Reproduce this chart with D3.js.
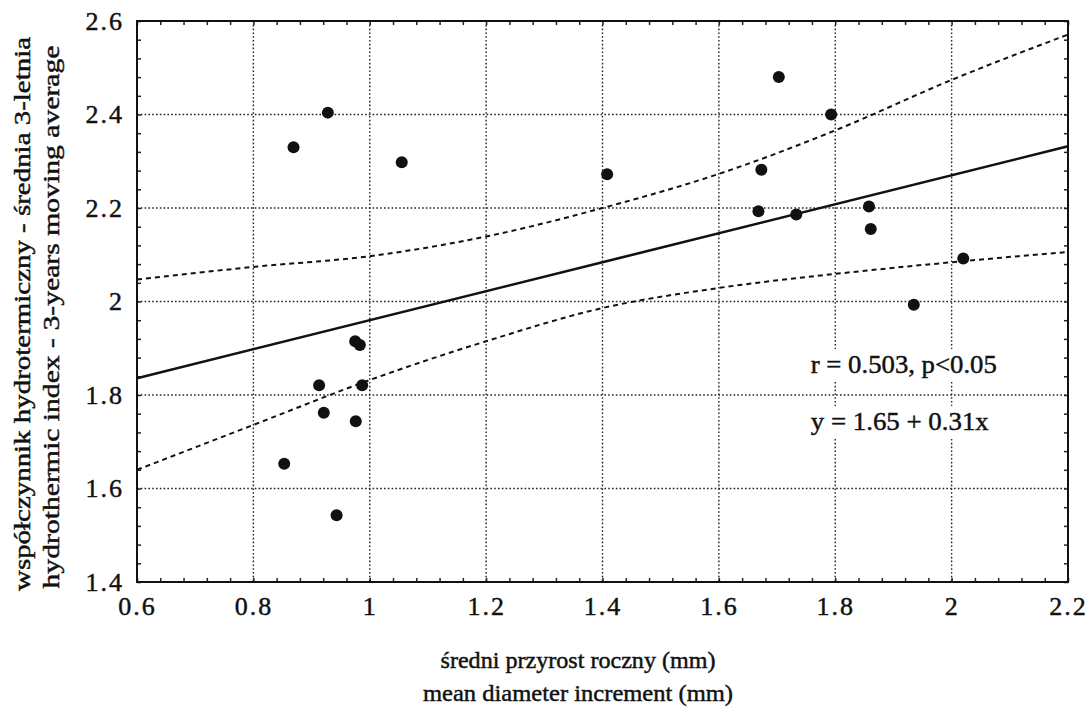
<!DOCTYPE html>
<html>
<head>
<meta charset="utf-8">
<script src="https://cdnjs.cloudflare.com/ajax/libs/d3/7.8.5/d3.min.js"></script>
<style>
  body { margin: 0; background: #fff; }
  svg text { font-family: "Liberation Serif", "Times New Roman", Times, serif !important; fill: #111; stroke: #111; stroke-width: 0.45px; }
</style>
</head>
<body>
<div id="chart"></div>
<script>
// values
var xTicks = [0.6, 0.8, 1, 1.2, 1.4, 1.6, 1.8, 2, 2.2];
var yTicks = [1.4, 1.6, 1.8, 2, 2.2, 2.4, 2.6];

// mean diameter increment (mm)
var increment = [0.869, 0.928, 1.055, 1.408, 1.703, 1.793, 1.673, 1.668, 1.733, 1.858, 1.861,
                 2.020, 1.935, 0.975, 0.983, 0.913, 0.987, 0.921, 0.976, 0.853, 0.943];
// hydrothermic index - 3-years moving average
var hydroIndex = [2.330, 2.404, 2.298, 2.272, 2.480, 2.400, 2.282, 2.193, 2.186, 2.203, 2.155,
                  2.092, 1.993, 1.915, 1.907, 1.821, 1.821, 1.762, 1.744, 1.653, 1.543];

// regression line and confidence band
var fitX = [0.6, 2.2];
var fitY = [1.836, 2.332];
var bandX = [0.6, 0.8, 1, 1.2, 1.4, 1.6, 1.8, 2, 2.2];
var bandUpper = [2.047, 2.074, 2.097, 2.139, 2.200, 2.273, 2.366, 2.474, 2.571];
var bandLower = [1.640, 1.736, 1.832, 1.915, 1.986, 2.029, 2.059, 2.084, 2.106];

var statsLabels = ["r = 0.503, p<0.05", "y = 1.65 + 0.31x"];

var margin = {top: 21, right: 23, bottom: 126, left: 137};
var width = 1091 - margin.left - margin.right,
    height = 708 - margin.top - margin.bottom;

var svg = d3.select("#chart").append("svg")
    .attr("width", 1091)
    .attr("height", 708);

var g = svg.append("g")
    .attr("transform", "translate(" + margin.left + "," + margin.top + ")");

var x = d3.scaleLinear().domain([0.6, 2.2]).range([0, width]);
var y = d3.scaleLinear().domain([1.4, 2.6]).range([height, 0]);

// dotted grid
g.append("g").selectAll("line")
    .data(xTicks.slice(1, -1))
    .enter().append("line")
    .attr("x1", function(d){ return x(d); })
    .attr("x2", function(d){ return x(d); })
    .attr("y1", 0).attr("y2", height)
    .attr("stroke", "#222").attr("stroke-width", 1.4)
    .attr("stroke-dasharray", "1.6,2.2");

g.append("g").selectAll("line")
    .data(yTicks.slice(1, -1))
    .enter().append("line")
    .attr("y1", function(d){ return y(d); })
    .attr("y2", function(d){ return y(d); })
    .attr("x1", 0).attr("x2", width)
    .attr("stroke", "#222").attr("stroke-width", 1.4)
    .attr("stroke-dasharray", "1.6,2.2");

// minor ticks on all four sides, pointing inward
var xMinor = d3.range(0, 41).map(function(i){ return 0.6 + i * 0.04; });
var yMinor = d3.range(0, 31).map(function(i){ return 1.4 + i * 0.04; });

g.append("g").call(d3.axisTop(x).tickValues(xMinor).tickSize(-4).tickFormat(""))
    .call(function(a){ a.select(".domain").remove(); });
g.append("g").attr("transform", "translate(0," + height + ")")
    .call(d3.axisBottom(x).tickValues(xMinor).tickSize(-4).tickFormat(""))
    .call(function(a){ a.select(".domain").remove(); });
g.append("g").call(d3.axisLeft(y).tickValues(yMinor).tickSize(-4).tickFormat(""))
    .call(function(a){ a.select(".domain").remove(); });
g.append("g").attr("transform", "translate(" + width + ",0)")
    .call(d3.axisRight(y).tickValues(yMinor).tickSize(-4).tickFormat(""))
    .call(function(a){ a.select(".domain").remove(); });
g.selectAll(".tick line").attr("stroke", "#222").attr("stroke-width", 1.5);

// tick labels
var xAxis = g.append("g").attr("transform", "translate(0," + height + ")")
    .call(d3.axisBottom(x).tickValues(xTicks).tickSize(0).tickPadding(15)
        .tickFormat(function(d){ return String(d); }));
xAxis.select(".domain").remove();
xAxis.attr("font-family", null);
xAxis.selectAll("text").attr("font-size", 26).attr("fill", "#111")
    .style("letter-spacing", "2px");

var yAxis = g.append("g")
    .call(d3.axisLeft(y).tickValues(yTicks).tickSize(0).tickPadding(13)
        .tickFormat(function(d){ return String(d); }));
yAxis.select(".domain").remove();
yAxis.attr("font-family", null);
yAxis.selectAll("text").attr("font-size", 26).attr("fill", "#111")
    .style("letter-spacing", "2px");

// confidence band
var bandLine = function(vals){
    return d3.line()
        .x(function(d, i){ return x(bandX[i]); })
        .y(function(d){ return y(d); })
        .curve(d3.curveMonotoneX)(vals);
};
[bandUpper, bandLower].forEach(function(vals){
    g.append("path")
        .attr("d", bandLine(vals))
        .attr("fill", "none")
        .attr("stroke", "#111")
        .attr("stroke-width", 2)
        .attr("stroke-dasharray", "5,4");
});

// regression line
g.append("path")
    .attr("d", d3.line()
        .x(function(d, i){ return x(fitX[i]); })
        .y(function(d){ return y(d); })(fitY))
    .attr("fill", "none")
    .attr("stroke", "#111")
    .attr("stroke-width", 2.6);

// points
g.append("g").selectAll("circle")
    .data(increment)
    .enter().append("circle")
    .attr("cx", function(d){ return x(d); })
    .attr("cy", function(d, i){ return y(hydroIndex[i]); })
    .attr("r", 6)
    .attr("fill", "#111");

// stats text with white boxes
statsLabels.forEach(function(t, i){
    var lab = g.append("g");
    var txt = lab.append("text")
        .attr("x", x(1.758))
        .attr("y", y(1.847) + i * 57)
        .attr("font-size", 25)
        .attr("textLength", i == 0 ? 186 : 178)
        .attr("lengthAdjust", "spacingAndGlyphs")
        .text(t);
    var bb = txt.node().getBBox();
    lab.insert("rect", "text")
        .attr("x", bb.x - 4).attr("y", bb.y - 2)
        .attr("width", bb.width + 8).attr("height", bb.height + 4)
        .attr("fill", "#fff");
});

// frame
g.append("rect")
    .attr("width", width).attr("height", height)
    .attr("fill", "none").attr("stroke", "#111").attr("stroke-width", 2);

// axis titles
svg.append("text")
    .attr("x", 578).attr("y", 668)
    .attr("text-anchor", "middle")
    .attr("font-size", 23)
    .attr("textLength", 275).attr("lengthAdjust", "spacingAndGlyphs")
    .text("średni przyrost roczny (mm)");
svg.append("text")
    .attr("x", 578).attr("y", 701)
    .attr("text-anchor", "middle")
    .attr("font-size", 23)
    .attr("textLength", 310).attr("lengthAdjust", "spacingAndGlyphs")
    .text("mean diameter increment (mm)");

svg.append("text")
    .attr("transform", "translate(30,314) rotate(-90)")
    .attr("text-anchor", "middle")
    .attr("font-size", 24)
    .attr("textLength", 554).attr("lengthAdjust", "spacingAndGlyphs")
    .text("współczynnik hydrotermiczny - średnia 3-letnia");
svg.append("text")
    .attr("transform", "translate(59,317) rotate(-90)")
    .attr("text-anchor", "middle")
    .attr("font-size", 24)
    .attr("textLength", 543).attr("lengthAdjust", "spacingAndGlyphs")
    .text("hydrothermic index - 3-years moving average");
</script>
</body>
</html>
